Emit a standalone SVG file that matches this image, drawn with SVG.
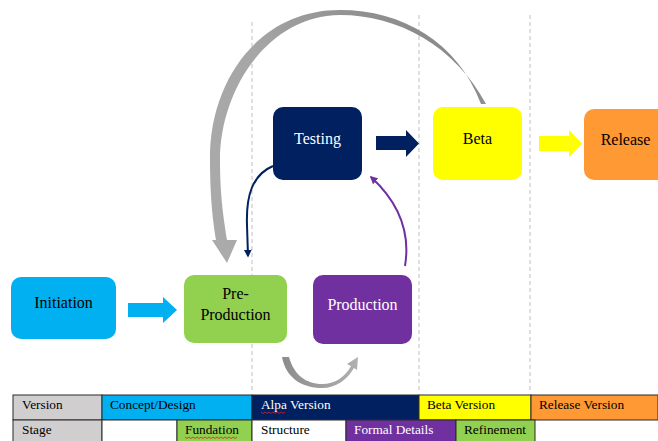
<svg xmlns="http://www.w3.org/2000/svg" width="658" height="441" viewBox="0 0 658 441">
<defs>
<style>
.lbl{font-family:'Liberation Serif',serif !important;font-size:16px;text-anchor:middle}
.tt{font-family:'Liberation Serif',serif !important;font-size:13.3px}
.dash{stroke:#BFBFBF;stroke-width:1;stroke-dasharray:4 3;fill:none}
.cell{stroke:#2b2b2b;stroke-width:1}
.sq{fill:none;stroke:#e02020;stroke-width:0.8}
</style>
<linearGradient id="gArc" x1="1" y1="0" x2="0" y2="1">
<stop offset="0" stop-color="#7F7F7F"/>
<stop offset="0.5" stop-color="#A6A6A6"/>
<stop offset="1" stop-color="#ABABAB"/>
</linearGradient>
<linearGradient id="gU" x1="0" y1="0" x2="1" y2="0">
<stop offset="0" stop-color="#8C8C8C"/>
<stop offset="1" stop-color="#B0B0B0"/>
</linearGradient>
<marker id="mNavy" viewBox="0 0 10 10" refX="8" refY="5" markerWidth="4" markerHeight="4" orient="auto">
<path d="M0 0 L10 5 L0 10 Z" fill="#002060"/>
</marker>
<marker id="mPurple" viewBox="0 0 10 10" refX="8" refY="5" markerWidth="4" markerHeight="4" orient="auto">
<path d="M0 0 L10 5 L0 10 Z" fill="#7030A0"/>
</marker>
</defs>

<g id="guides">
<line class="dash" x1="252" y1="22" x2="252" y2="393"/>
<line class="dash" x1="419" y1="15" x2="419" y2="393"/>
<line class="dash" x1="530" y1="15" x2="530" y2="393"/>
</g>

<g id="connectors">
<path fill="url(#gArc)" d="M481 104 C458 42 402 10 340 10 C258 10 209 82 210 160 C210 198 213 222 216 240 L212 240 L227 263 L237 240 L227 240 C224 220 220 198 220 160 C220 92 266 16 340 15 C398 15 455 46 486 104 Z"/>
<path fill="#00B0F0" d="M128 303 L163 303 L163 297 L177 310 L163 323 L163 317 L128 317 Z"/>
<path fill="#002060" d="M376 136 L406 136 L406 130 L419 143.5 L406 157 L406 150 L376 150 Z"/>
<path fill="#FFFF00" d="M539 136 L569 136 L569 130 L582 143.5 L569 157 L569 151 L539 151 Z"/>
<path d="M273 166 C252 175 246 196 247 225 L248 256" fill="none" stroke="#002060" stroke-width="2" marker-end="url(#mNavy)"/>
<path d="M405 266 C411 230 396 200 371 177" fill="none" stroke="#7030A0" stroke-width="2" marker-end="url(#mPurple)"/>
<path fill="url(#gU)" d="M282 357 L289 357 C294 375 306 384 322 384 C335 384 345 377 351 366 L347 364 L358 357 L357 370 L354 368 C347 380 336 388 322 388 C302 388 286 378 282 357 Z"/>
</g>

<g id="initiation">
<rect x="11" y="277" width="105" height="62" rx="10" fill="#00B0F0"/>
<text class="lbl" style="font-family:'Liberation Serif',serif" x="63.5" y="308" fill="#000">Initiation</text>
</g>
<g id="pre-production">
<rect x="184" y="275" width="103" height="68" rx="10" fill="#92D050"/>
<text class="lbl" style="font-family:'Liberation Serif',serif" x="235.5" y="299" fill="#000">Pre-</text>
<text class="lbl" style="font-family:'Liberation Serif',serif" x="235.5" y="320" fill="#000">Production</text>
</g>
<g id="production">
<rect x="313" y="275" width="99" height="69" rx="10" fill="#7030A0"/>
<text class="lbl" style="font-family:'Liberation Serif',serif" x="362.5" y="310" fill="#fff">Production</text>
</g>
<g id="testing">
<rect x="273" y="107" width="89" height="73" rx="10" fill="#002060"/>
<text class="lbl" style="font-family:'Liberation Serif',serif" x="317.5" y="144" fill="#fff">Testing</text>
</g>
<g id="beta">
<rect x="433" y="107" width="89" height="73" rx="10" fill="#FFFF00"/>
<text class="lbl" style="font-family:'Liberation Serif',serif" x="477.5" y="144" fill="#000">Beta</text>
</g>
<g id="release">
<rect x="584" y="109" width="90" height="71" rx="10" fill="#FF9933"/>
<text class="lbl" style="font-family:'Liberation Serif',serif" x="625.5" y="145" fill="#000">Release</text>
</g>

<g id="table">
<rect class="cell" x="13" y="395" width="89" height="25" fill="#D0CECE"/>
<rect class="cell" x="102" y="395" width="150" height="25" fill="#00B0F0"/>
<rect class="cell" x="252" y="395" width="167" height="25" fill="#002060"/>
<rect class="cell" x="419" y="395" width="112" height="25" fill="#FFFF00"/>
<rect class="cell" x="531" y="395" width="127" height="25" fill="#FF9933"/>
<rect class="cell" x="13" y="420" width="89" height="22" fill="#D0CECE"/>
<rect class="cell" x="102" y="420" width="75" height="22" fill="#FFFFFF"/>
<rect class="cell" x="177" y="420" width="75" height="22" fill="#92D050"/>
<rect class="cell" x="252" y="420" width="94" height="22" fill="#FFFFFF"/>
<rect class="cell" x="346" y="420" width="110" height="22" fill="#7030A0"/>
<rect class="cell" x="456" y="420" width="79" height="22" fill="#92D050"/>
<text class="tt" style="font-family:'Liberation Serif',serif" x="22" y="409" fill="#000">Version</text>
<text class="tt" style="font-family:'Liberation Serif',serif" x="110" y="409" fill="#000">Concept/Design</text>
<text class="tt" style="font-family:'Liberation Serif',serif" x="261" y="409" fill="#fff">Alpa Version</text>
<text class="tt" style="font-family:'Liberation Serif',serif" x="427" y="409" fill="#000">Beta Version</text>
<text class="tt" style="font-family:'Liberation Serif',serif" x="539" y="409" fill="#000">Release Version</text>
<text class="tt" style="font-family:'Liberation Serif',serif" x="22" y="434" fill="#000">Stage</text>
<text class="tt" style="font-family:'Liberation Serif',serif" x="185" y="434" fill="#000">Fundation</text>
<text class="tt" style="font-family:'Liberation Serif',serif" x="261" y="434" fill="#000">Structure</text>
<text class="tt" style="font-family:'Liberation Serif',serif" x="354" y="434" fill="#fff">Formal Details</text>
<text class="tt" style="font-family:'Liberation Serif',serif" x="464" y="434" fill="#000">Refinement</text>
<path class="sq" d="M261 412 l2 1.5 l2 -1.5 l2 1.5 l2 -1.5 l2 1.5 l2 -1.5 l2 1.5 l2 -1.5 l2 1.5 l2 -1.5 l2 1.5 l2 -1.5"/>
<path class="sq" d="M185 437 l2 1.5 l2 -1.5 l2 1.5 l2 -1.5 l2 1.5 l2 -1.5 l2 1.5 l2 -1.5 l2 1.5 l2 -1.5 l2 1.5 l2 -1.5 l2 1.5 l2 -1.5 l2 1.5 l2 -1.5 l2 1.5 l2 -1.5 l2 1.5 l2 -1.5 l2 1.5 l2 -1.5 l2 1.5 l2 -1.5 l2 1.5 l2 -1.5"/>
</g>
</svg>
